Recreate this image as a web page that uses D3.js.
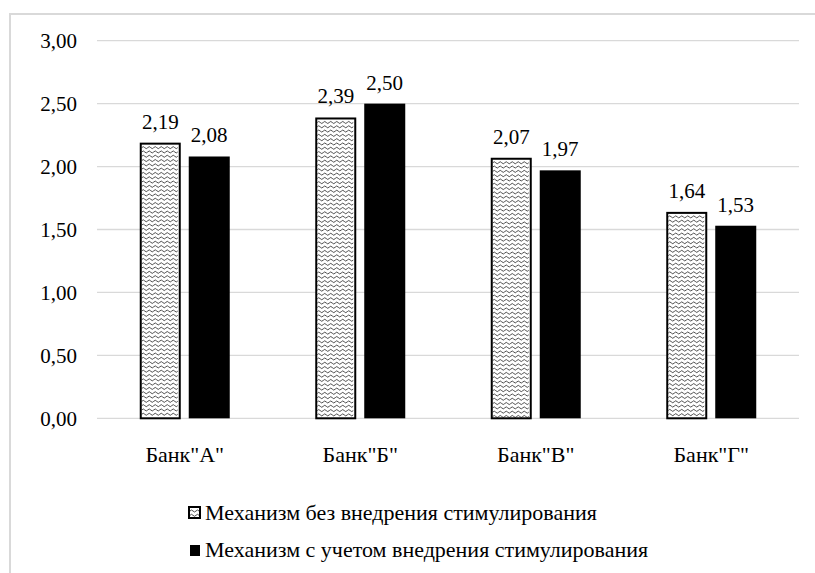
<!DOCTYPE html>
<html><head><meta charset="utf-8">
<script src="https://cdn.jsdelivr.net/npm/d3@7/dist/d3.min.js"></script>
<style>body{margin:0;background:#fff;}</style></head>
<body>
<svg id="chart" width="815" height="573"></svg>
<script>
const categories = ['Банк"А"', 'Банк"Б"', 'Банк"В"', 'Банк"Г"'];
const seriesNames = ["Механизм без внедрения стимулирования", "Механизм с учетом внедрения стимулирования"];
const seriesWithout = [2.19, 2.39, 2.07, 1.64];
const seriesWith = [2.08, 2.50, 1.97, 1.53];
const yTicks = [0, 0.5, 1, 1.5, 2, 2.5, 3];

const FONT = "'Liberation Serif'";
const svg = d3.select("#chart");
const fmt = v => d3.format(".2f")(v).replace(".", ",");

// wavy hatch drawn as plain paths inside a box
function wavePath(x0, y0, x1, y1) {
  let d = "";
  for (let yy = y0 + 3; yy < y1 - 0.5; yy += 4.3) {
    d += `M${x0},${yy.toFixed(2)}`;
    let x = x0, up = true;
    while (x + 3 <= x1 + 0.01) {
      d += ` Q${(x + 1.5).toFixed(2)},${(yy + (up ? -2 : 2)).toFixed(2)} ${(x + 3).toFixed(2)},${yy.toFixed(2)}`;
      x += 3; up = !up;
    }
  }
  return d;
}

// chart border
svg.append("rect").attr("x", 10).attr("y", 14).attr("width", 900).attr("height", 700)
  .attr("fill", "none").attr("stroke", "#d9d9d9").attr("stroke-width", 2);

const x0 = d3.scaleBand().domain(categories).range([97, 799]).padding(0);
const x1 = d3.scaleBand().domain([0, 1]).range([0, 90]).paddingInner(0.163).paddingOuter(0);
const y = d3.scaleLinear().domain([0, 3]).range([418.3, 40.7]);

// gridlines
svg.append("g").selectAll("line").data(yTicks).join("line")
  .attr("x1", 97).attr("x2", 799).attr("y1", d => y(d)).attr("y2", d => y(d))
  .attr("stroke", "#d9d9d9").attr("stroke-width", 1.3);

// y axis labels
const yAxis = d3.axisLeft(y).tickValues(yTicks).tickFormat(fmt).tickSize(0).tickPadding(0);
const gy = svg.append("g").attr("transform", "translate(77,0)").call(yAxis);
gy.attr("font-family", "Liberation Serif").attr("font-size", 21);
gy.select(".domain").remove();
gy.selectAll("text").style("font-family", FONT).attr("dy", "0.34em");

// x axis labels
const xAxis = d3.axisBottom(x0).tickSize(0).tickPadding(0);
const gx = svg.append("g").attr("transform", "translate(0,462)").call(xAxis);
gx.attr("font-family", "Liberation Serif").attr("font-size", 22);
gx.select(".domain").remove();
gx.selectAll("text").style("font-family", FONT).attr("dy", 0);

const series = [seriesWithout, seriesWith];
const groups = svg.append("g").selectAll("g").data(categories).join("g")
  .attr("transform", d => `translate(${x0(d) + x0.bandwidth() / 2 - 45},0)`);

groups.each(function(cat, ci) {
  const g = d3.select(this);
  series.forEach((s, si) => {
    const v = s[ci];
    const bx = x1(si), bw = x1.bandwidth();
    if (si === 0) {
      g.append("rect").attr("x", bx + 1).attr("y", y(v) + 1).attr("width", bw - 2)
        .attr("height", y(0) - y(v) - 1).attr("fill", "#fff");
      g.append("path").attr("d", wavePath(bx + 2, y(v) + 2, bx + bw - 2, y(0) - 1))
        .attr("fill", "none").attr("stroke", "#3a3a3a").attr("stroke-width", 0.9);
      g.append("rect").attr("x", bx + 1).attr("y", y(v) + 1).attr("width", bw - 2)
        .attr("height", y(0) - y(v) - 1).attr("fill", "none")
        .attr("stroke", "#000").attr("stroke-width", 2);
    } else {
      g.append("rect").attr("x", bx).attr("y", y(v)).attr("width", bw)
        .attr("height", y(0) - y(v)).attr("fill", "#000");
    }
    g.append("text").attr("x", bx + bw / 2).attr("y", y(v) - 14)
      .attr("text-anchor", "middle").style("font-family", FONT).attr("font-size", 21)
      .text(fmt(v));
  });
});

// legend
const legend = svg.append("g");
const legY = [520, 557];
seriesNames.forEach((name, i) => {
  if (i === 0) {
    legend.append("rect").attr("x", 189).attr("y", legY[i] - 13).attr("width", 11).attr("height", 11)
      .attr("fill", "#fff");
    legend.append("path").attr("d", wavePath(190, legY[i] - 12, 199, legY[i] - 3))
      .attr("fill", "none").attr("stroke", "#3a3a3a").attr("stroke-width", 0.9);
    legend.append("rect").attr("x", 189).attr("y", legY[i] - 13).attr("width", 11).attr("height", 11)
      .attr("fill", "none").attr("stroke", "#000").attr("stroke-width", 2);
  } else {
    legend.append("rect").attr("x", 190).attr("y", legY[i] - 12).attr("width", 10).attr("height", 11)
      .attr("fill", "#000");
  }
  legend.append("text").attr("x", 205).attr("y", legY[i]).style("font-family", FONT)
    .attr("font-size", 22).text(name);
});
</script>
</body></html>
